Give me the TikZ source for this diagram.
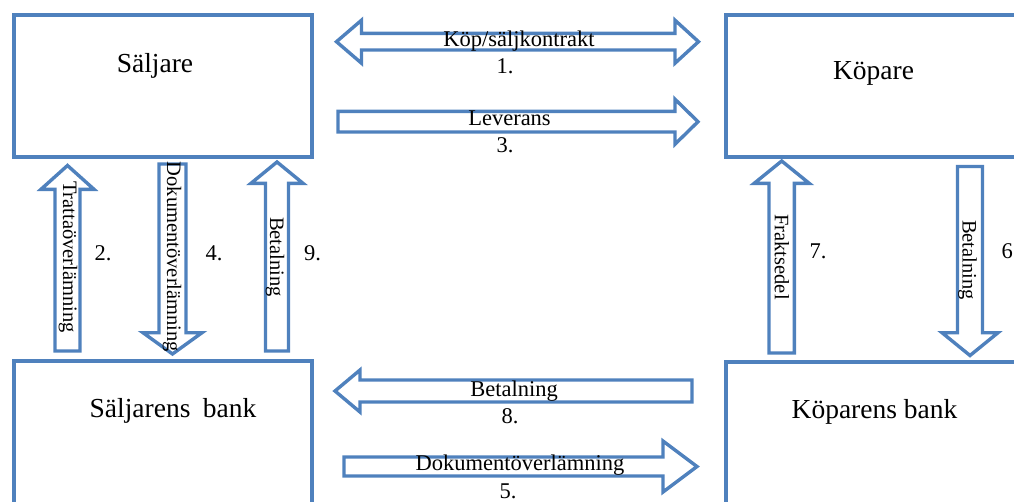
\documentclass[tikz,border=0pt]{standalone}
\usepackage{fontspec}
\setmainfont{Liberation Serif}
\definecolor{boxblue}{HTML}{4F81BD}
\tikzset{
  boxline/.style={draw=boxblue, line width=4pt},
  blk/.style={draw=boxblue, line width=3.4pt, fill=white, line join=miter},
  bigtxt/.style={font=\fontsize{27.5}{32}\selectfont, inner sep=0pt},
  lbl/.style={font=\fontsize{22.5}{26}\selectfont, inner sep=0pt},
  vlbl/.style={font=\fontsize{20.5}{24}\selectfont, inner sep=0pt, rotate=-90},
}
% horizontal block arrow: tail x, head base x, tip x, y, shaft half, head half
\newcommand{\blkH}[6]{%
  \draw[blk] (#1,{#4-#5}) -- (#2,{#4-#5}) -- (#2,{#4-#6}) -- (#3,#4) -- (#2,{#4+#6}) -- (#2,{#4+#5}) -- (#1,{#4+#5}) -- cycle;}
% vertical block arrow: tail y, head base y, tip y, x, shaft half, head half
\newcommand{\blkV}[6]{%
  \draw[blk] ({#4-#5},#1) -- ({#4-#5},#2) -- ({#4-#6},#2) -- (#4,#3) -- ({#4+#6},#2) -- ({#4+#5},#2) -- ({#4+#5},#1) -- cycle;}
% double block arrow: left tip, left base, right base, right tip, y, shaft half, head half
\newcommand{\blkD}[7]{%
  \draw[blk] (#1,#5) -- (#2,{#5-#7}) -- (#2,{#5-#6}) -- (#3,{#5-#6}) -- (#3,{#5-#7}) -- (#4,#5) -- (#3,{#5+#7}) -- (#3,{#5+#6}) -- (#2,{#5+#6}) -- (#2,{#5+#7}) -- cycle;}
\begin{document}
\begin{tikzpicture}[x=1pt,y=-1pt]
\useasboundingbox (0,0) rectangle (1014,501);
% boxes
\draw[boxline] (14,14.5) rectangle (312,157);
\draw[boxline] (725.5,14.5) rectangle (1040,157);
\draw[boxline] (14,361) rectangle (312,520);
\draw[boxline] (725.5,361.5) rectangle (1040,520);
\node[bigtxt, anchor=base] (saljare) at (155,72) {Säljare};
\node[bigtxt, anchor=base] (kopare) at (873.5,79) {Köpare};
\node[bigtxt, anchor=base] (sbank) at (173,417.5) {Säljarens\hspace{0.45em}bank};
\node[bigtxt, anchor=base] (kbank) at (874.5,418) {Köparens bank};
% horizontal arrows
\blkD{336.5}{361.5}{675}{698.5}{41.7}{8.3}{21.5}
\blkH{338}{675}{698}{121.7}{10.3}{22.5}
\blkH{692}{360}{335}{391}{11}{21}
\blkH{344}{663}{697}{466.5}{9.5}{25.5}
% vertical arrows
\blkV{351}{189.3}{165.5}{67.5}{12.5}{26.5}
\blkV{164}{332.7}{354}{172.5}{13.5}{29.5}
\blkV{351}{183.3}{162}{277}{11.5}{26}
\blkV{353}{183.3}{161}{781.7}{12.7}{27.5}
\blkV{166.5}{332.7}{355.5}{970}{12.5}{28}
% horizontal labels
\node[lbl, anchor=base] (l1) at (519,46.5) {Köp/säljkontrakt};
\node[lbl, anchor=base] (n1) at (505,73.3) {1.};
\node[lbl, anchor=base] (l3) at (509.5,125) {Leverans};
\node[lbl, anchor=base] (n3) at (505,152.7) {3.};
\node[lbl, anchor=base] (l8) at (514,396.7) {Betalning};
\node[lbl, anchor=base] (n8) at (510,423) {8.};
\node[lbl, anchor=base] (l5) at (520,470.7) {Dokumentöverlämning};
\node[lbl, anchor=base] (n5) at (508,498) {5.};
% vertical labels
\node[vlbl] (l2) at (68,257) {Trattaöverlämning};
\node[vlbl] (l4) at (172,257) {Dokumentöverlämning};
\node[vlbl] (l9) at (275,257) {Betalning};
\node[vlbl] (l7) at (782,257) {Fraktsedel};
\node[vlbl] (l6) at (967.5,260) {Betalning};
% numbers
\node[lbl, anchor=base] (n2) at (103,260) {2.};
\node[lbl, anchor=base] (n4) at (214,260) {4.};
\node[lbl, anchor=base] (n9) at (312.5,260) {9.};
\node[lbl, anchor=base] (n7) at (818,258) {7.};
\node[lbl, anchor=base west] (n6) at (1001.5,258) {6.};
\end{tikzpicture}
\end{document}
